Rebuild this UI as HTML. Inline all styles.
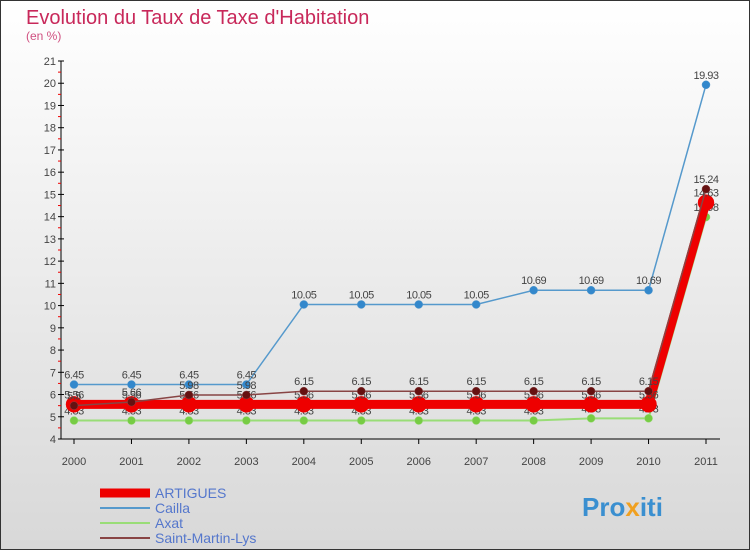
<!DOCTYPE html>
<html><head><meta charset="utf-8"><style>
body{margin:0;width:750px;height:550px;overflow:hidden;font-family:"Liberation Sans",sans-serif}
</style></head><body>
<svg width="750" height="550" xmlns="http://www.w3.org/2000/svg">
<defs><linearGradient id="bg" x1="0" y1="0" x2="0" y2="1"><stop offset="0" stop-color="#ffffff"/><stop offset="1" stop-color="#d8d8d8"/></linearGradient></defs>
<rect x="0.5" y="0.5" width="749" height="549" fill="url(#bg)" stroke="#333"/>
<text x="26" y="24" font-size="20" fill="#c8285a">Evolution du Taux de Taxe d'Habitation</text>
<text x="26" y="40" font-size="12" fill="#d05080">(en %)</text>
<g id="axes"></g>
<g id="series"></g>
<g id="legend"></g>
<text x="582" y="516" font-size="26" font-weight="bold" fill="#3a8fd0">Pro<tspan fill="#f0a020">x</tspan>iti</text>
</svg>
<script>
const years=["2000","2001","2002","2003","2004","2005","2006","2007","2008","2009","2010","2011"];
const yTicks=[4,5,6,7,8,9,10,11,12,13,14,15,16,17,18,19,20,21];
const artigues=[5.56,5.56,5.56,5.56,5.56,5.56,5.56,5.56,5.56,5.56,5.56,14.63];
const cailla=[6.45,6.45,6.45,6.45,10.05,10.05,10.05,10.05,10.69,10.69,10.69,19.93];
const axat=[4.83,4.83,4.83,4.83,4.83,4.83,4.83,4.83,4.83,4.93,4.93,13.98];
const saintMartin=[5.5,5.66,5.98,5.98,6.15,6.15,6.15,6.15,6.15,6.15,6.15,15.24];
const NS="http://www.w3.org/2000/svg";
const X=i=>74+i*(706-74)/(years.length-1);
const Y=v=>439-(v-4)*(439-61)/17;
function el(t,a,p){const e=document.createElementNS(NS,t);for(const k in a)e.setAttribute(k,a[k]);p.appendChild(e);return e;}
const ax=document.getElementById('axes');
const yl=el('line',{x1:61,y1:61,x2:61,y2:439,stroke:'#000'},ax);


const xl=el('line',{x1:61,y1:439,x2:720,y2:439,stroke:'#000'},ax);


yTicks.forEach(v=>{
 el('line',{x1:58,y1:Y(v),x2:64,y2:Y(v),stroke:'#000'},ax);
 if(v<21) el('line',{x1:58,y1:Y(v+0.5),x2:61,y2:Y(v+0.5),stroke:'#e00'},ax);
 const t=el('text',{x:56,y:Y(v)+4,'text-anchor':'end','font-size':11,fill:'#444'},ax);
 t.textContent=v;
 
 
});
years.forEach((y,i)=>{
 el('line',{x1:X(i),y1:439,x2:X(i),y2:444,stroke:'#000'},ax);
 const t=el('text',{x:X(i),y:465,'text-anchor':'middle','font-size':11,fill:'#444'},ax);
 t.textContent=y;
 
 
});
const sg=document.getElementById('series');
function series(vals,color,w,r,name,dot){
 const g=el('g',{},sg);
 
 
 const p=el('polyline',{points:vals.map((v,i)=>X(i)+','+Y(v)).join(' '),fill:'none',stroke:color,'stroke-width':w},g);
 
 
 vals.forEach((v,i)=>{
  const c=el('circle',{cx:X(i),cy:Y(v),r:r,fill:dot,stroke:color,'stroke-width':0.5},g);
  
  
  const t=el('text',{x:X(i),y:Y(v)-6,'text-anchor':'middle','font-size':11,fill:'#444','letter-spacing':'-0.5'},g);
  t.textContent=v.toFixed(2).replace(/0$/,'');
  
  
 });
}
series(axat,'#99dd77',2,4,'axat','#77cc44');
series(cailla,'#5599cc',1.5,4,'cailla','#3388cc');
series(artigues,'#ee0000',9,8,'artigues','#ee0000');
series(saintMartin,'#884444',1.5,4,'saint-martin-lys','#661111');
const lg=document.getElementById('legend');
const items=[["ARTIGUES","#ee0000",9],["Cailla","#5599cc",2],["Axat","#99dd77",2],["Saint-Martin-Lys","#884444",2]];
items.forEach((it,i)=>{
 const y=493+i*15;
 const g=el('g',{},lg);
 
 
 el('line',{x1:100,y1:y,x2:150,y2:y,stroke:it[1],'stroke-width':it[2]},g);
 const t=el('text',{x:155,y:y+5,'font-size':14,fill:'#5577cc'},g);
 t.textContent=it[0];
});
</script>
</body></html>
